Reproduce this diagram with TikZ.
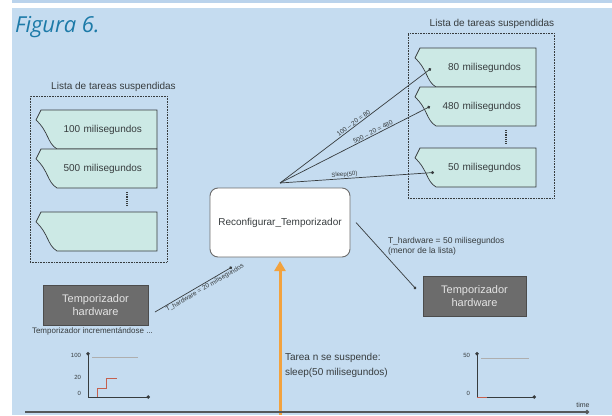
\documentclass[tikz,border=0pt]{standalone}
\usepackage{fontspec}
\setmainfont{Liberation Sans}
\newfontfamily\titulofont{Open Sans}
\usetikzlibrary{arrows.meta,positioning,calc,backgrounds}
\definecolor{fondo}{RGB}{197,220,240}
\definecolor{franja}{RGB}{186,211,236}
\definecolor{tarjeta}{RGB}{204,233,229}
\definecolor{gris}{RGB}{108,108,108}
\definecolor{naranja}{RGB}{242,162,62}
\definecolor{titulo}{RGB}{28,122,168}
\definecolor{texto}{RGB}{55,60,62}
\definecolor{rojo}{RGB}{196,96,78}

\begin{document}
\begin{tikzpicture}[x=1pt,y=-1pt,>=Latex, every node/.style={text=texto,font=\fontsize{10}{12}\selectfont,outer sep=0pt}]
\tikzstyle{tarea}=[text width=92pt,align=right,inner xsep=15pt,inner ysep=0pt,minimum height=39pt]
\tikzstyle{forma}=[fill=tarjeta,draw=texto,line width=0.7pt]
\tikzstyle{hw}=[draw=gris!70!black,fill=gris,text=white!82!gris,minimum width=105pt,minimum height=40pt,align=center,font=\fontsize{11}{13}\selectfont,line width=0.8pt]
\tikzstyle{marco}=[draw=texto,densely dotted,line width=0.6pt]
\tikzstyle{enlace}=[draw=texto,line width=0.7pt,-{Circle[length=3pt]}]
\tikzstyle{chico}=[font=\fontsize{6.5}{8}\selectfont,inner sep=1pt]
\tikzstyle{marca}=[font=\fontsize{6}{7}\selectfont,anchor=east,inner sep=1pt]
\tikzstyle{eje}=[draw=texto,line width=1pt,{Circle[length=3.5pt]}-{Circle[length=3.5pt]}]

\useasboundingbox (0,0) rectangle (612,415);
\begin{scope}[on background layer]
\fill[franja] (12,0) rectangle (612,3);
\fill[fondo] (12,8) rectangle (612,415);
\end{scope}

\node[anchor=base west,inner sep=0pt,text=titulo,font=\titulofont\itshape\fontsize{22}{26}\selectfont] (fig) at (15,32) {Figura 6.};

\node[tarea] (t100) at (96,129.5) {100 milisegundos};
\node[tarea,below=0pt of t100] (t500) {500 milisegundos};
\node[tarea,below=24pt of t500] (tvacia) {};
\node[tarea] (t80) at (475,67.5) {80 milisegundos};
\node[tarea,below=0pt of t80] (t480) {480 milisegundos};
\node[tarea,below=22pt of t480] (t50) {50 milisegundos};
\begin{scope}[on background layer]
\foreach \n in {t100,t500,tvacia,t80,t480,t50}
  \filldraw[forma] ($(\n.north west)+(6,0)$) -- (\n.north east) -- (\n.south east) -- ($(\n.south west)+(22,0)$) .. controls ($(\n.south west)+(12,-6)$) and ($(\n.north west)+(14,22)$) .. ($(\n.north west)+(1,10)$) -- cycle;
\end{scope}
\foreach \n in {t500,t480}
  \draw[texto,densely dotted,line width=1.2pt] ($(\n.south)+(31,4)$) -- ($(\n.south)+(31,18)$);

\node[marco,minimum width=137pt,minimum height=166pt] (lista1) at (98.5,179) {};
\node[marco,minimum width=146pt,minimum height=165pt] (lista2) at (481,115.5) {};
\node[above=3pt of lista1.north,xshift=15pt,inner sep=1pt] (tit1) {Lista de tareas suspendidas};
\node[above=3pt of lista2.north,xshift=11pt,inner sep=1pt] (tit2) {Lista de tareas suspendidas};

\node[draw=gris,fill=white,rounded corners=8pt,minimum width=140pt,minimum height=69pt,line width=0.9pt] (reconf) at (280,222.5) {Reconfigurar\_Temporizador};
\coordinate[above=5pt of reconf] (origen);
\draw[enlace] (origen) -- node[chico,sloped,above,pos=0.5] {100 – 20 = 80} ($(t80.west)+(17,1)$);
\draw[enlace] (origen) -- node[chico,sloped,above,pos=0.63] {500 – 20 = 480} ($(t480.west)+(16,0)$);
\draw[enlace] (origen) -- node[chico,font=\fontsize{6}{7}\selectfont,sloped,above,pos=0.42] {Sleep(50)} ($(t50.west)+(20,5)$);

\node[hw] (hwizq) at (95.5,305) {Temporizador\\hardware};
\node[below=2pt of hwizq,xshift=-3pt,inner sep=1pt,font=\fontsize{8}{9}\selectfont] (incr) {Temporizador incrementándose ...};
\draw[enlace] ($(hwizq.east)+(7,7)$) -- node[chico,sloped,below,pos=0.62,inner sep=1.5pt] {T\_hardware = 20 milisegundos} ($(reconf.south west)+(22,10)$);

\node[hw,minimum width=103pt] (hwder) at (474.5,296) {Temporizador\\hardware};
\draw[enlace] ($(reconf.east)+(6,0)$) -- ($(hwder.west)+(-7,-7)$);
\node[anchor=north west,align=left,font=\fontsize{8.5}{10}\selectfont,inner sep=0pt] (nota) at (388,237) {T\_hardware = 50 milisegundos\\(menor de la lista)};

\coordinate (base) at (280,415);
\draw[naranja,line width=3pt,-{Triangle[length=10pt,width=11pt]}] (base) -- ($(reconf.south)+(0,4)$);
\node[anchor=west,align=left,inner sep=0pt,font=\fontsize{10}{15}\selectfont] (suspende) at (285,365) {Tarea n se suspende:\\sleep(50 milisegundos)};

\coordinate (t0) at (25,412);
\coordinate (tfin) at (589,412);
\draw[texto!85,line width=1.3pt,-{Circle[length=4pt]}] (t0) -- (tfin);
\node[chico,font=\fontsize{7}{8}\selectfont,above=3pt of tfin,xshift=-6pt] (tiempo) {time};

\coordinate (o1) at (88,397);
\draw[gris!55,line width=0.5pt] (92,357) -- (138,357);
\draw[rojo,line width=0.8pt] (97,397) |- (106,388) |- (117,378);
\draw[eje] (88,352) -- (o1) -- (150,397);
\node[marca] at (82,355) {100};
\node[marca] at (82,377) {20};
\node[marca] at (82,393) {0};

\coordinate (o2) at (477,397);
\draw[gris!55,line width=0.5pt] (481,358) -- (529,358);
\draw[eje] (477,352) -- (o2) -- (536,397);
\draw[rojo,line width=1pt] (o2) -- (487,397);
\node[marca] at (471,355) {50};
\node[marca] at (471,393) {0};
\end{tikzpicture}
\end{document}
